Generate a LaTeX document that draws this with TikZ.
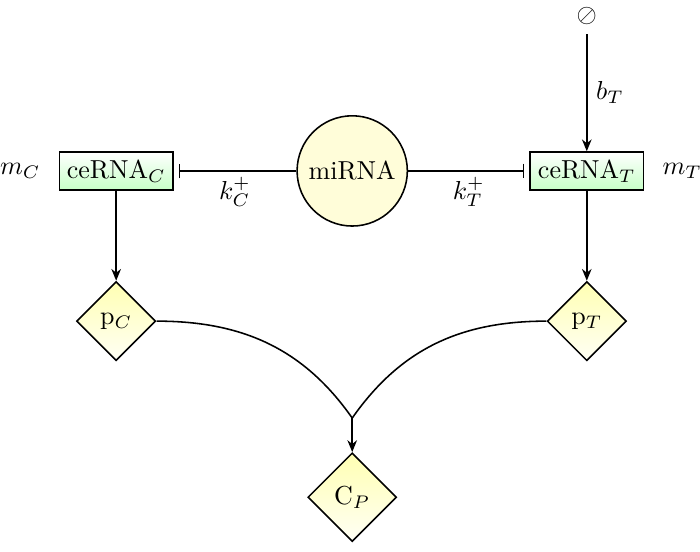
\documentclass[tikz,border=0pt]{standalone}
\usetikzlibrary{shapes.geometric, positioning, arrows.meta}

\tikzset{
    rna/.style={draw, rectangle, top color=white, bottom color=green!22, minimum width=1.53cm, minimum height=0.51cm, inner sep=2pt},
    mir/.style={draw, circle, fill=yellow!15, minimum size=1.49cm, inner sep=0pt},
    prot/.style={draw, diamond, top color=yellow!30, bottom color=yellow!4, minimum size=1.07cm, inner sep=1pt},
    inhib/.style={-{Bar[width=2mm]}, shorten >=2pt},
}

\begin{document}
\begin{tikzpicture}[auto, semithick, >={Stealth[length=1.6mm, width=1.3mm]}]
    \useasboundingbox (0, 0) rectangle (9.46, -7.46);

    % species
    \node [rna] (cC) at (1.57, -2.31) {ceRNA$_C$};
    \node [mir] (mir) at (4.76, -2.31) {miRNA};
    \node [rna] (cT) at (7.93, -2.31) {ceRNA$_T$};
    \node (src) at (7.93, -0.22) {$\oslash$};
    \node [prot] (pC) at (1.57, -4.34) {p$_C$};
    \node [prot] (pT) at (7.93, -4.34) {p$_T$};
    \node [prot, minimum size=1.2cm] (cP) at (4.76, -6.72) {C$_P$};
    \coordinate (j) at (4.76, -5.65);

    \node [left=0.12cm of cC] (mC) {$m_C$};
    \node [right=0.12cm of cT] (mT) {$m_T$};

    % reactions
    \draw [->] (src) -- node {$b_T$} (cT);
    \draw [inhib] (mir) -- node [inner sep=2pt] {$k_C^+$} (cC);
    \draw [inhib] (mir) -- node [swap, inner sep=2pt] {$k_T^+$} (cT);
    \draw [->] (cC) -- (pC);
    \draw [->] (cT) -- (pT);
    \draw (pC.east) to [out=0, in=125] (j);
    \draw (pT.west) to [out=180, in=55] (j);
    \draw [->] (j) -- (cP);

\end{tikzpicture}
\end{document}
